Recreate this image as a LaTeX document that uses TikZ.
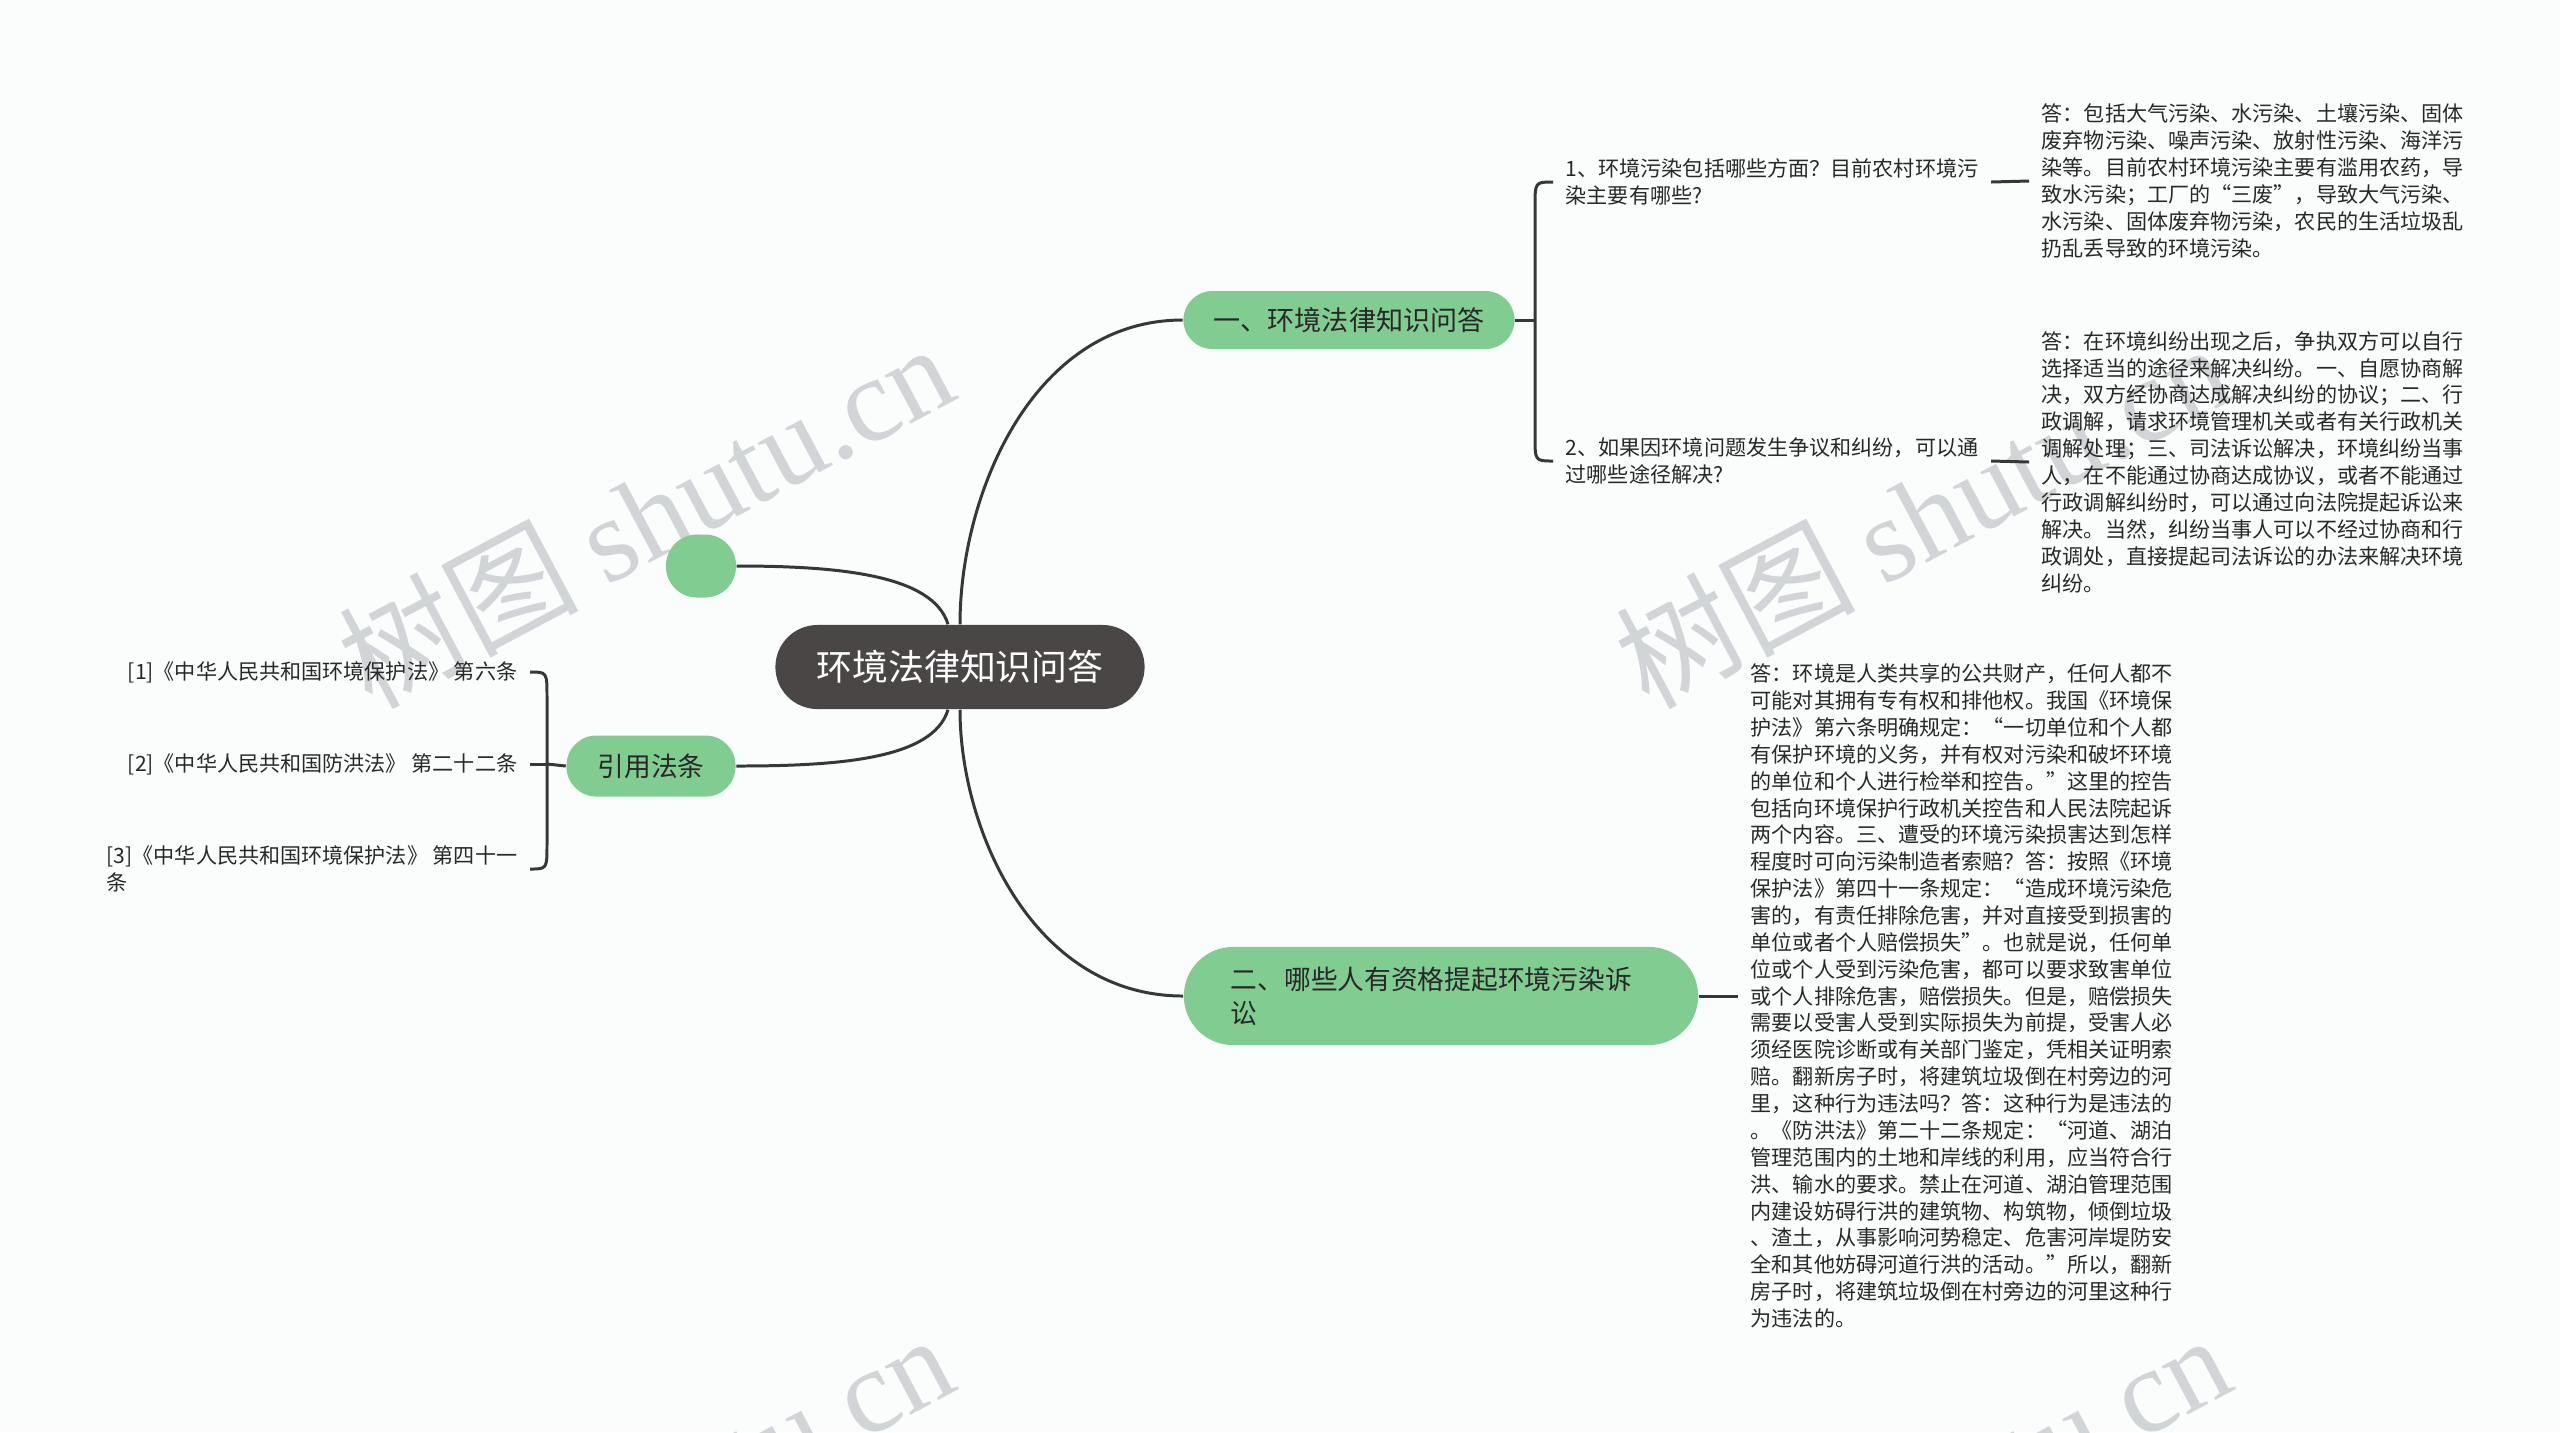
\documentclass[tikz,border=0pt]{standalone}
\usepackage{fontspec}
\setmainfont{Noto Sans CJK SC}
\newfontfamily\markfont{Liberation Serif}
\usetikzlibrary{calc}

\definecolor{leafgreen}{RGB}{128,204,145}
\definecolor{rootgray}{RGB}{75,70,70}
\definecolor{linegray}{RGB}{55,55,55}
\definecolor{textgray}{RGB}{40,40,40}
\definecolor{markgray}{RGB}{210,213,215}
\definecolor{paper}{RGB}{251,253,253}

\tikzset{
  link/.style = {draw=linegray, line width=0.85pt},
  rootnode/.style = {fill=rootgray, text=white, rounded corners=0.42cm,
    minimum width=3.69cm, minimum height=0.84cm, font=\fontsize{10.2}{12}\selectfont},
  topic/.style = {fill=leafgreen, text=textgray, font=\fontsize{7.6}{9.7}\selectfont},
  answer/.style = {anchor=west, align=left, inner xsep=0.12cm, inner ysep=0pt,
    text=textgray, font=\fontsize{6}{7.64}\selectfont},
  lawitem/.style = {answer, anchor=east},
  watermark/.style = {rotate=28, text=markgray, font=\fontsize{34}{34}\selectfont}
}

\begin{document}
\begin{tikzpicture}[x=0.01cm, y=-0.01cm]
	\useasboundingbox (0,0) rectangle (2560,1432);
	\fill[paper] (0,0) rectangle (2560,1432);

	% watermarks
	\begin{scope}
	\clip (0,0) rectangle (2560,1432);
	\foreach \mx/\my in {645/514, 1922/514, 645/1505, 1922/1505}
		\node[watermark] at (\mx,\my) {树图 {\markfont shutu.cn}};
	\end{scope}

	% main nodes
	\node[rootnode] (root) at (960,667) {环境法律知识问答};
	\node[topic, minimum width=3.31cm, minimum height=0.58cm, rounded corners=0.29cm,
		font=\fontsize{7.7}{9.7}\selectfont] (n1) at (1349,320) {一、环境法律知识问答};
	\node[topic, minimum width=5.14cm, minimum height=0.98cm, rounded corners=0.49cm,
		text width=4.2cm, inner xsep=0.47cm, align=left] (n2) at (1441,996)
		{二、哪些人有资格提起环境污染诉\\讼};
	\node[topic, minimum width=0.70cm, minimum height=0.63cm, rounded corners=0.31cm,
		inner sep=0pt] (blank) at (701,566) {};
	\node[topic, minimum width=1.69cm, minimum height=0.61cm, rounded corners=0.30cm] (law) at (651,766) {引用法条};

	% questions
	\node[answer] (q1) at (1553,182) {1、环境污染包括哪些方面？目前农村环境污\\
		染主要有哪些?};
	\node[answer] (q2) at (1553,461) {2、如果因环境问题发生争议和纠纷，可以通\\
		过哪些途径解决?};

	% answers
	\node[answer] (a1) at (2029,181) {答：包括大气污染、水污染、土壤污染、固体\\
		废弃物污染、噪声污染、放射性污染、海洋污\\
		染等。目前农村环境污染主要有滥用农药，导\\
		致水污染；工厂的“三废”，导致大气污染、\\
		水污染、固体废弃物污染，农民的生活垃圾乱\\
		扔乱丢导致的环境污染。};
	\node[answer] (a2) at (2029,462) {答：在环境纠纷出现之后，争执双方可以自行\\
		选择适当的途径来解决纠纷。一、自愿协商解\\
		决，双方经协商达成解决纠纷的协议；二、行\\
		政调解，请求环境管理机关或者有关行政机关\\
		调解处理；三、司法诉讼解决，环境纠纷当事\\
		人，在不能通过协商达成协议，或者不能通过\\
		行政调解纠纷时，可以通过向法院提起诉讼来\\
		解决。当然，纠纷当事人可以不经过协商和行\\
		政调处，直接提起司法诉讼的办法来解决环境\\
		纠纷。};
	\node[answer] (a3) at (1738,996) {答：环境是人类共享的公共财产，任何人都不\\
		可能对其拥有专有权和排他权。我国《环境保\\
		护法》第六条明确规定：“一切单位和个人都\\
		有保护环境的义务，并有权对污染和破坏环境\\
		的单位和个人进行检举和控告。”这里的控告\\
		包括向环境保护行政机关控告和人民法院起诉\\
		两个内容。三、遭受的环境污染损害达到怎样\\
		程度时可向污染制造者索赔？答：按照《环境\\
		保护法》第四十一条规定：“造成环境污染危\\
		害的，有责任排除危害，并对直接受到损害的\\
		单位或者个人赔偿损失”。也就是说，任何单\\
		位或个人受到污染危害，都可以要求致害单位\\
		或个人排除危害，赔偿损失。但是，赔偿损失\\
		需要以受害人受到实际损失为前提，受害人必\\
		须经医院诊断或有关部门鉴定，凭相关证明索\\
		赔。翻新房子时，将建筑垃圾倒在村旁边的河\\
		里，这种行为违法吗？答：这种行为是违法的\\
		。《防洪法》第二十二条规定：“河道、湖泊\\
		管理范围内的土地和岸线的利用，应当符合行\\
		洪、输水的要求。禁止在河道、湖泊管理范围\\
		内建设妨碍行洪的建筑物、构筑物，倾倒垃圾\\
		、渣土，从事影响河势稳定、危害河岸堤防安\\
		全和其他妨碍河道行洪的活动。”所以，翻新\\
		房子时，将建筑垃圾倒在村旁边的河里这种行\\
		为违法的。};

	% cited laws
	\node[lawitem] (i1) at (530,672) {[1]《中华人民共和国环境保护法》 第六条};
	\node[lawitem] (i2) at (530,764) {[2]《中华人民共和国防洪法》 第二十二条};
	\node[lawitem] (i3) at (530,869) {[3]《中华人民共和国环境保护法》 第四十一\\条};

	% brace points
	\coordinate (b1) at (1535,320);
	\coordinate (b2) at (547,764);

	% connectors from the root
	\draw[link] (root.north) .. controls +(0,-130) and +(-150,0) .. (n1.west);
	\draw[link] (root.south) .. controls +(0,120) and +(-150,0) .. (n2.west);
	\draw[link] ([xshift=-0.12cm]root.north) .. controls +(-15,-50) and +(100,0) .. (blank.east);
	\draw[link] ([xshift=-0.12cm]root.south) .. controls +(-15,50) and +(100,0) .. (law.east);

	% branch one
	\draw[link] (n1.east) -- (b1);
	\draw[link] (q1.west) .. controls (q1.west -| b1) .. ($(q1.west -| b1)+(0,25)$)
		-- ($(q2.west -| b1)+(0,-25)$) .. controls (q2.west -| b1) .. (q2.west);
	\draw[link] (q1.east) -- (a1.west);
	\draw[link] (q2.east) -- (a2.west);

	% branch two
	\draw[link] (n2.east) -- (a3.west);

	% cited laws brace
	\draw[link] (law.west) -- (b2);
	\draw[link] (i2.east) -- (b2);
	\draw[link] (i1.east) .. controls (i1.east -| b2) .. ($(i1.east -| b2)+(0,25)$)
		-- ($(i3.east -| b2)+(0,-25)$) .. controls (i3.east -| b2) .. (i3.east);
\end{tikzpicture}
\end{document}
